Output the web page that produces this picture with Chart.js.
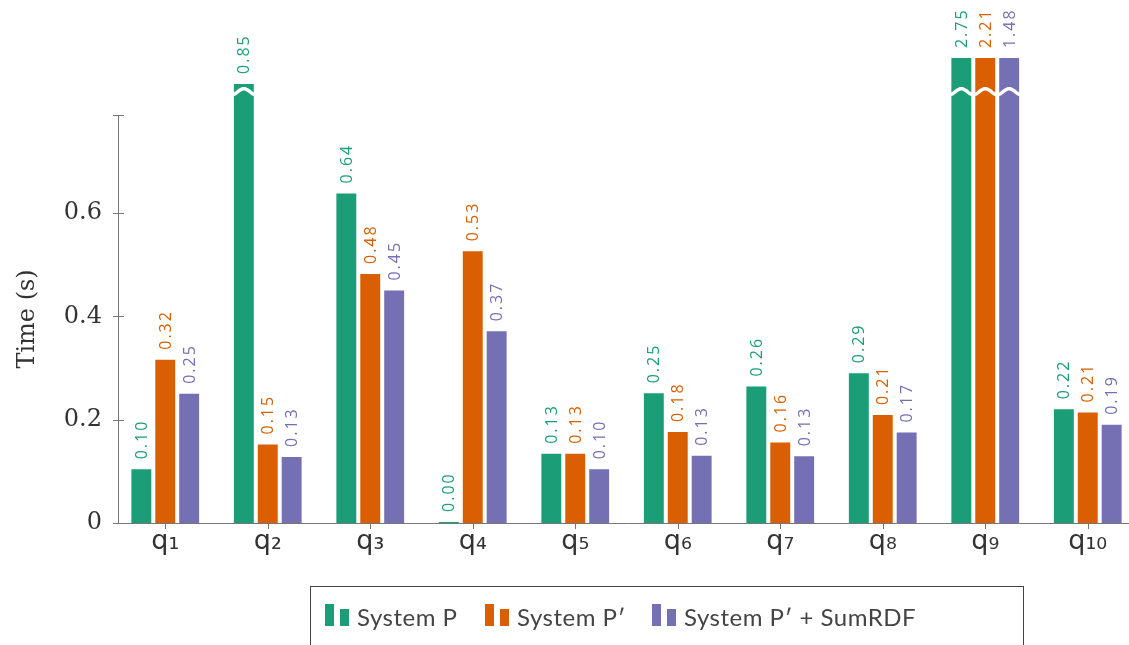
<!DOCTYPE html>
<html>
<head>
<meta charset="utf-8">
<script src="https://cdn.jsdelivr.net/npm/chart.js@4.4.1/dist/chart.umd.min.js"></script>
<style>
  body { margin: 0; overflow: hidden; background: #fff; width: 1129px; height: 645px; position: relative; }
  #wrap { position: absolute; left: 0; top: 0; width: 1145px; height: 645px; }
  #legend {
    position: absolute; left: 310px; top: 586px; width: 714px; height: 70px;
    border: 1px solid #444; box-sizing: border-box;
    font-family: Lato, "Noto Sans", sans-serif; font-size: 24px; color: #444; letter-spacing: 0.5px;
  }
  .item { position: absolute; top: 15px; line-height: 30px; white-space: nowrap; }
  .mk { display: inline-block; width: 9px; }
  .mk + .mk { margin-left: 6px; }
  .txt { margin-left: 8px; }
</style>
</head>
<body>
<div id="wrap"><canvas id="myChart" width="1145" height="645"></canvas></div>
<div id="legend">
  <div class="item" style="left:14px"><span class="mk" style="height:22px;background:#1b9e77"></span><span class="mk" style="height:17px;background:#1b9e77"></span><span class="txt">System P</span></div>
  <div class="item" style="left:174px"><span class="mk" style="height:22px;background:#d95f02"></span><span class="mk" style="height:17px;background:#d95f02"></span><span class="txt">System P′</span></div>
  <div class="item" style="left:341px"><span class="mk" style="height:22px;background:#7570b3"></span><span class="mk" style="height:17px;background:#7570b3"></span><span class="txt">System P′ + SumRDF</span></div>
</div>
<script>
const categories = ['q₁', 'q₂', 'q₃', 'q₄', 'q₅', 'q₆', 'q₇', 'q₈', 'q₉', 'q₁₀'];
const systemP = [0.104, 0.85, 0.638, 0.002, 0.134, 0.251, 0.264, 0.29, 2.75, 0.22];
const systemPPrime = [0.316, 0.152, 0.482, 0.526, 0.134, 0.176, 0.156, 0.209, 2.21, 0.214];
const systemPSum = [0.25, 0.128, 0.45, 0.371, 0.104, 0.13, 0.129, 0.175, 1.48, 0.19];
const yTicks = [0, 0.2, 0.4, 0.6, 0.79];
const yTickLabels = ['0', '0.2', '0.4', '0.6', ''];

const AXIS_TOP = 0.79;   // y axis line ends here
const CLIP = 0.9;        // bars taller than this are cut
const BREAK_AT = 0.835;  // where the break mark sits

const colors = ['#1b9e77', '#d95f02', '#7570b3'];
const rawSeries = [systemP, systemPPrime, systemPSum];

const ctx = document.getElementById('myChart');

const axesPlugin = {
  id: 'axes',
  beforeDatasetsDraw(chart) {
    const c = chart.ctx;
    const x = chart.scales.x, y = chart.scales.y;
    const x0 = 118, y0 = y.getPixelForValue(0);
    c.save();
    c.strokeStyle = '#777';
    c.lineWidth = 1;
    c.beginPath();
    c.moveTo(x0 + 0.5, y0);
    c.lineTo(x0 + 0.5, y.getPixelForValue(AXIS_TOP));
    c.moveTo(x0, y0 + 0.5);
    c.lineTo(chart.chartArea.right, y0 + 0.5);
    yTicks.forEach(v => {
      const py = Math.round(y.getPixelForValue(v)) + 0.5;
      c.moveTo(x0 - 5, py);
      c.lineTo(x0 + 6, py);
    });
    categories.forEach((_, i) => {
      const px = Math.round(x.getPixelForValue(i)) + 0.5;
      c.moveTo(px, y0 - 5);
      c.lineTo(px, y0 + 6);
    });
    c.stroke();

    // y axis title, centred on the drawn axis
    c.save();
    c.translate(28, (y0 + y.getPixelForValue(AXIS_TOP)) / 2);
    c.rotate(-Math.PI / 2);
    c.fillStyle = '#333';
    c.font = '24px "DejaVu Serif", serif';
    c.textAlign = 'center';
    c.textBaseline = 'middle';
    c.fillText('Time (s)', 0, 0);
    c.restore();
    c.restore();
  },
  afterDatasetsDraw(chart) {
    const c = chart.ctx;
    const y = chart.scales.y;
    c.save();
    chart.data.datasets.forEach((ds, di) => {
      const meta = chart.getDatasetMeta(di);
      const raw = rawSeries[di];
      meta.data.forEach((bar, i) => {
        // break mark
        if (raw[i] > AXIS_TOP) {
          const by = y.getPixelForValue(BREAK_AT);
          const left = bar.x - bar.width / 2 - 2, w = bar.width + 4;
          c.strokeStyle = '#fff';
          c.lineWidth = 3.5;
          c.beginPath();
          for (let t = 0; t <= 20; t++) {
            const px = left + w * t / 20;
            const py = by - 3 * Math.sin(Math.PI * 2 * t / 20 - Math.PI / 2);
            if (t === 0) c.moveTo(px, py); else c.lineTo(px, py);
          }
          c.stroke();
        }
        // value label
        c.save();
        c.translate(bar.x, bar.y - 10);
        c.rotate(-Math.PI / 2);
        c.fillStyle = colors[di];
        c.font = '16px "Open Sans", sans-serif';
        c.letterSpacing = '2px';
        c.textAlign = 'left';
        c.textBaseline = 'middle';
        c.fillText(raw[i].toFixed(2), 0, 1);
        c.restore();
      });
    });
    c.restore();
  }
};

const myChart = new Chart(ctx, {
  type: 'bar',
  data: {
    labels: categories,
    datasets: rawSeries.map((raw, i) => ({
      label: ['System P', 'System P′', 'System P′ + SumRDF'][i],
      data: raw.map(v => Math.min(v, CLIP)),
      backgroundColor: colors[i],
      borderWidth: 0,
      categoryPercentage: 0.70,
      barPercentage: 0.833
    }))
  },
  options: {
    responsive: false,
    animation: false,
    layout: { padding: { left: 14, right: 6, top: 40, bottom: 77 } },
    plugins: { legend: { display: false }, tooltip: { enabled: false } },
    scales: {
      x: {
        grid: { display: false, drawTicks: false },
        border: { display: false },
        ticks: { color: '#333', font: { family: '"DejaVu Sans", sans-serif', size: 27 }, padding: 3, maxRotation: 0 },
        afterFit(scale) { scale.height = 45; }
      },
      y: {
        min: 0,
        max: 0.935,
        grid: { display: false, drawTicks: false },
        border: { display: false },
        afterBuildTicks(scale) { scale.ticks = yTicks.map(v => ({ value: v })); },
        ticks: {
          color: '#333',
          padding: 12,
          font: { family: '"DejaVu Serif", serif', size: 24 },
          callback: (v) => yTickLabels[yTicks.indexOf(v)] ?? ''
        },
        afterFit(scale) { scale.width = 100; }
      }
    }
  },
  plugins: [axesPlugin]
});
</script>
</body>
</html>
